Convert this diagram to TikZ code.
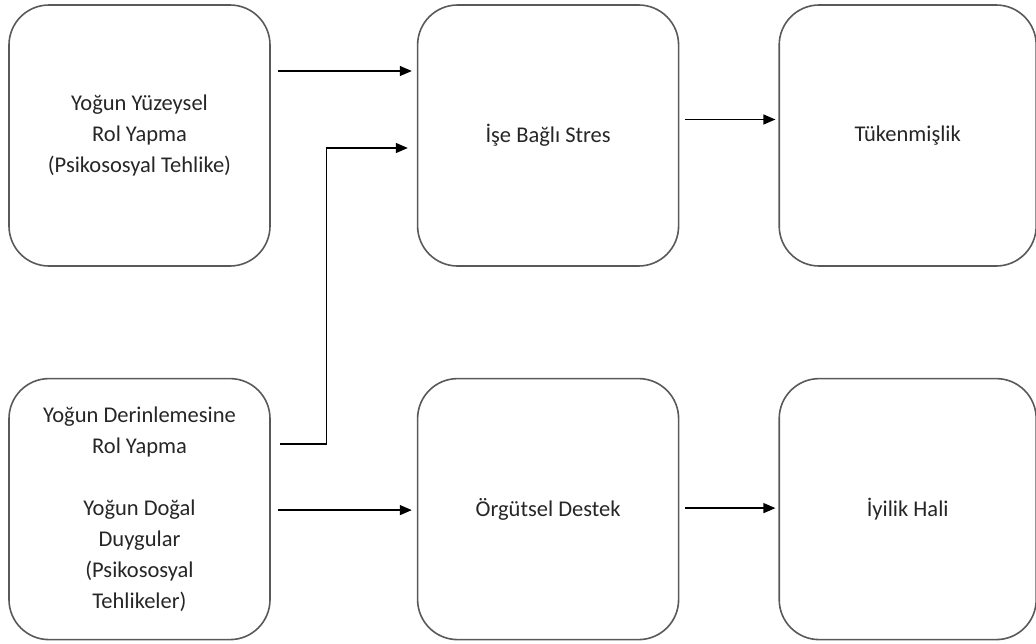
\documentclass[tikz,border=0pt]{standalone}
\usepackage{fontspec}
\setmainfont{Carlito}
\usepackage{tikz}
\usetikzlibrary{arrows.meta,positioning,calc}
\tikzset{
    box/.style={draw=black!65,line width=1.6pt,rounded corners=40pt,minimum width=261pt,minimum height=261pt,align=center,text=black!85,font=\fontsize{22.5}{31}\selectfont},
    lastbox/.style={box,minimum width=257pt},
    arr/.style={-{Triangle[length=12pt,width=10pt]},line width=1.3pt},
}
\begin{document}
\begin{tikzpicture}
                \useasboundingbox (0,0) rectangle (1036pt,-643pt);
                \node[box] at (139.5pt,-135.5pt) (yuzey) {Yoğun Yüzeysel\\Rol Yapma\\(Psikososyal Tehlike)};
                \node[box,right=146pt of yuzey] (stres) {İşe Bağlı Stres};
                \node[lastbox,right=99pt of stres] (tuken) {Tükenmişlik};
                \node[box,below=111pt of yuzey] (derin) {Yoğun Derinlemesine\\Rol Yapma\\[31pt]Yoğun Doğal\\Duygular\\(Psikososyal\\Tehlikeler)};
                \node[box,below=111pt of stres] (destek) {Örgütsel Destek};
                \node[lastbox,below=111pt of tuken] (iyilik) {İyilik Hali};
                \draw[arr] ([xshift=7pt,yshift=64.5pt]yuzey.east) -- ([xshift=-5pt,yshift=64.5pt]stres.west);
                \draw[arr] ([xshift=9pt,yshift=65pt]derin.east) -- ++(47pt,0) |- ([xshift=-9pt,yshift=-12.5pt]stres.west);
                \draw[arr] ([xshift=6pt,yshift=16pt]stres.east) -- ([xshift=-3pt,yshift=16pt]tuken.west);
                \draw[arr] ([xshift=7pt,yshift=-1pt]derin.east) -- ([xshift=-5pt,yshift=-1pt]destek.west);
                \draw[arr] ([xshift=6pt,yshift=1pt]destek.east) -- ([xshift=-3pt,yshift=1pt]iyilik.west);
            \end{tikzpicture}
\end{document}
